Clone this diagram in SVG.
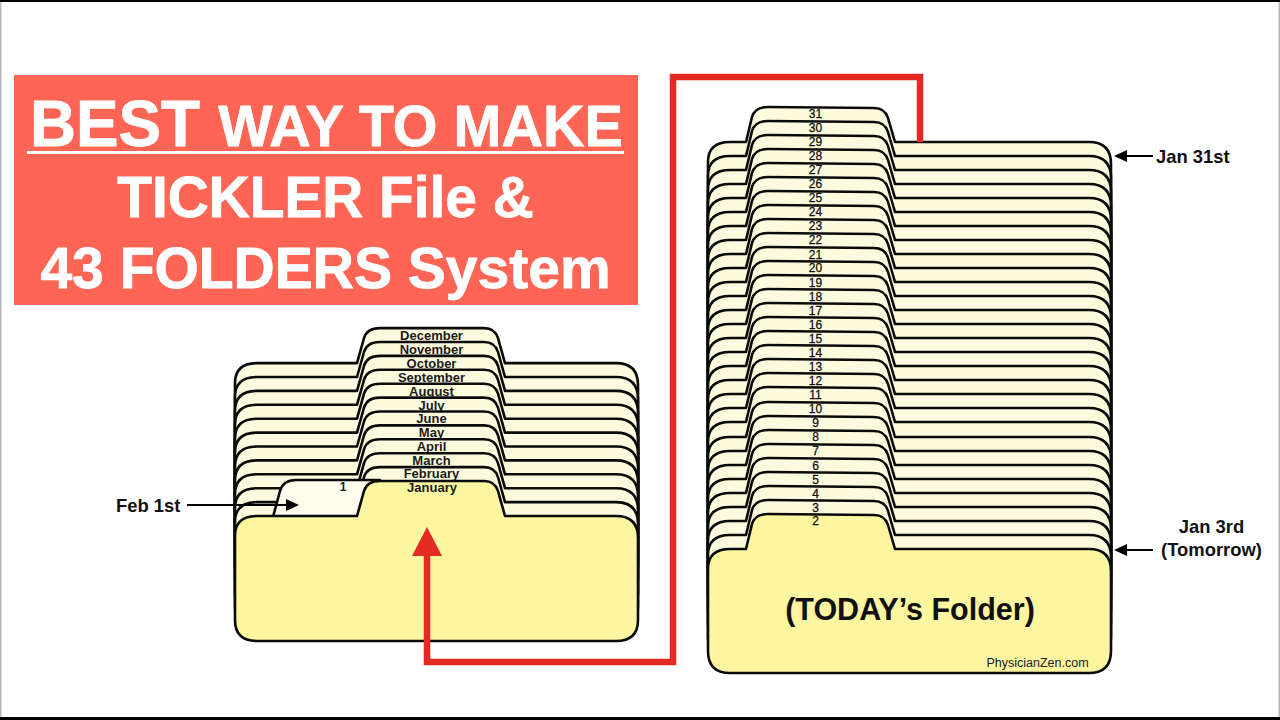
<svg xmlns="http://www.w3.org/2000/svg" width="1280" height="720" viewBox="0 0 1280 720">
<style>
text{font-family:"Liberation Sans",Arial,sans-serif}
.f{stroke:#0a0a0a;stroke-width:2.600;stroke-linejoin:round;fill:#fdfbdd}
.cur{fill:#fdf6a0}
.lb{font-size:13px;font-weight:700;text-anchor:middle;fill:#1a1a1a}
.n{font-size:12px;text-anchor:middle;fill:#111;stroke:#111;stroke-width:.3px}
.t{fill:#fff;font-weight:700;text-anchor:middle;stroke:#fff;stroke-width:.8px}
.c{font-size:18.400px;font-weight:700;fill:#111}
.k{stroke:#000;stroke-width:2;fill:none}
</style>
<defs>
<path id="L" d="M235 536Q235 516 257 516L357 516L364 491Q367 481 380 481L484 481Q495 481 498 491L505 516L616 516Q638 516 638 538L638 620Q638 641 616 641L257 641Q235 641 235 620Z"/>
<path id="R" d="M708 569Q708 549 730 549L746 549L752 524Q755 514 768 514L874 515Q885 515 888 525L895 549L1089 549Q1111 549 1111 571L1111 651Q1111 673 1089 673L730 673Q708 673 708 651Z"/>
</defs>
<rect width="1280" height="720" fill="#fff"/>
<rect width="1280" height="2" fill="#000"/>
<rect y="717" width="1280" height="3" fill="#000"/>
<rect y="2" width="1.500" height="715" fill="#b8b8c0"/>
<rect x="1278.500" y="2" width="1.500" height="715" fill="#b8b8c0"/>
<rect id="banner" x="14" y="75" width="624" height="230" fill="#ff6555"/>
<g id="title">
<text class="t" x="115" y="146" font-size="64" textLength="170" lengthAdjust="spacingAndGlyphs">BEST</text>
<text class="t" x="420.500" y="146" font-size="57.500">WAY TO MAKE</text>
<rect x="27" y="151" width="597" height="3" fill="#fff"/>
<text class="t" x="325.500" y="217" font-size="56.800">TICKLER File &amp;</text>
<text class="t" x="325.500" y="288" font-size="57">43 FOLDERS System</text>
</g>
<g id="monthly-folders">
<g id="m12"><use href="#L" class="f" transform="translate(0 -152.900)"/><text class="lb" x="431.500" y="340">December</text></g>
<g id="m11"><use href="#L" class="f" transform="translate(0 -139)"/><text class="lb" x="431.500" y="354">November</text></g>
<g id="m10"><use href="#L" class="f" transform="translate(0 -125.100)"/><text class="lb" x="431.500" y="368">October</text></g>
<g id="m9"><use href="#L" class="f" transform="translate(0 -111.200)"/><text class="lb" x="431.500" y="382">September</text></g>
<g id="m8"><use href="#L" class="f" transform="translate(0 -97.300)"/><text class="lb" x="431.500" y="396">August</text></g>
<g id="m7"><use href="#L" class="f" transform="translate(0 -83.400)"/><text class="lb" x="431.500" y="410">July</text></g>
<g id="m6"><use href="#L" class="f" transform="translate(0 -69.500)"/><text class="lb" x="431.500" y="423">June</text></g>
<g id="m5"><use href="#L" class="f" transform="translate(0 -55.600)"/><text class="lb" x="431.500" y="437">May</text></g>
<g id="m4"><use href="#L" class="f" transform="translate(0 -41.700)"/><text class="lb" x="431.500" y="451">April</text></g>
<g id="m3"><use href="#L" class="f" transform="translate(0 -27.800)"/><text class="lb" x="431.500" y="465">March</text></g>
<g id="m2"><use href="#L" class="f" transform="translate(0 -13.900)"/><text class="lb" x="431.500" y="478">February</text></g>
<g id="feb1"><path class="f" style="fill:#fefced" d="M273 517L280 491Q283 480 296 480L380 480L358 516Z"/><text class="lb" x="343" y="491" style="font-size:12px">1</text></g>
<g id="m1"><use href="#L" class="f cur"/><text class="lb" x="432" y="492">January</text></g>
</g>
<g id="daily-folders">
<g id="d31"><use href="#R" class="f" transform="translate(0 -407)"/><text class="n" x="815.500" y="118">31</text></g>
<g id="d30"><use href="#R" class="f" transform="translate(0 -393)"/><text class="n" x="815.500" y="132">30</text></g>
<g id="d29"><use href="#R" class="f" transform="translate(0 -379)"/><text class="n" x="815.500" y="146">29</text></g>
<g id="d28"><use href="#R" class="f" transform="translate(0 -365)"/><text class="n" x="815.500" y="160">28</text></g>
<g id="d27"><use href="#R" class="f" transform="translate(0 -351)"/><text class="n" x="815.500" y="174">27</text></g>
<g id="d26"><use href="#R" class="f" transform="translate(0 -337)"/><text class="n" x="815.500" y="188">26</text></g>
<g id="d25"><use href="#R" class="f" transform="translate(0 -323)"/><text class="n" x="815.500" y="202">25</text></g>
<g id="d24"><use href="#R" class="f" transform="translate(0 -309)"/><text class="n" x="815.500" y="216">24</text></g>
<g id="d23"><use href="#R" class="f" transform="translate(0 -295)"/><text class="n" x="815.500" y="230">23</text></g>
<g id="d22"><use href="#R" class="f" transform="translate(0 -281)"/><text class="n" x="815.500" y="244">22</text></g>
<g id="d21"><use href="#R" class="f" transform="translate(0 -267)"/><text class="n" x="815.500" y="259">21</text></g>
<g id="d20"><use href="#R" class="f" transform="translate(0 -253)"/><text class="n" x="815.500" y="272">20</text></g>
<g id="d19"><use href="#R" class="f" transform="translate(0 -239)"/><text class="n" x="815.500" y="287">19</text></g>
<g id="d18"><use href="#R" class="f" transform="translate(0 -225)"/><text class="n" x="815.500" y="301">18</text></g>
<g id="d17"><use href="#R" class="f" transform="translate(0 -211)"/><text class="n" x="815.500" y="315">17</text></g>
<g id="d16"><use href="#R" class="f" transform="translate(0 -197)"/><text class="n" x="815.500" y="329">16</text></g>
<g id="d15"><use href="#R" class="f" transform="translate(0 -183)"/><text class="n" x="815.500" y="343">15</text></g>
<g id="d14"><use href="#R" class="f" transform="translate(0 -169)"/><text class="n" x="815.500" y="357">14</text></g>
<g id="d13"><use href="#R" class="f" transform="translate(0 -155)"/><text class="n" x="815.500" y="371">13</text></g>
<g id="d12"><use href="#R" class="f" transform="translate(0 -141)"/><text class="n" x="815.500" y="385">12</text></g>
<g id="d11"><use href="#R" class="f" transform="translate(0 -127)"/><text class="n" x="815.500" y="399">11</text></g>
<g id="d10"><use href="#R" class="f" transform="translate(0 -112)"/><text class="n" x="815.500" y="413">10</text></g>
<g id="d9"><use href="#R" class="f" transform="translate(0 -98)"/><text class="n" x="815.500" y="427">9</text></g>
<g id="d8"><use href="#R" class="f" transform="translate(0 -84)"/><text class="n" x="815.500" y="441">8</text></g>
<g id="d7"><use href="#R" class="f" transform="translate(0 -70)"/><text class="n" x="815.500" y="455">7</text></g>
<g id="d6"><use href="#R" class="f" transform="translate(0 -56)"/><text class="n" x="815.500" y="470">6</text></g>
<g id="d5"><use href="#R" class="f" transform="translate(0 -42)"/><text class="n" x="815.500" y="484">5</text></g>
<g id="d4"><use href="#R" class="f" transform="translate(0 -28)"/><text class="n" x="815.500" y="498">4</text></g>
<g id="d3"><use href="#R" class="f" transform="translate(0 -14)"/><text class="n" x="815.500" y="512">3</text></g>
<g id="d2"><use href="#R" class="f cur"/><text class="n" x="815.500" y="525">2</text>
<text x="910" y="620" font-size="30.500" font-weight="700" text-anchor="middle" fill="#111">(TODAY’s Folder)</text>
<text x="1037.500" y="667" font-size="12.500" text-anchor="middle" fill="#222">PhysicianZen.com</text></g>
</g>
<g id="connectors">
<path d="M920 142V77H673V662H427V553" fill="none" stroke="#e32b24" stroke-width="6.500"/>
<path d="M427 527L442 556H412Z" fill="#e32b24"/>
<path class="k" d="M187 505H288"/><path d="M299 505L286 499V511Z"/>
<path class="k" d="M1153 156H1124"/><path d="M1114 156L1127 150V162Z"/>
<path class="k" d="M1153 550H1124"/><path d="M1114 550L1127 544V556Z"/>
</g>
<g id="labels">
<text class="c" x="116" y="512">Feb 1st</text>
<text class="c" x="1156" y="163">Jan 31st</text>
<text class="c" x="1211.500" y="533" text-anchor="middle">Jan 3rd</text>
<text class="c" x="1211.500" y="556" text-anchor="middle">(Tomorrow)</text>
</g>
</svg>
